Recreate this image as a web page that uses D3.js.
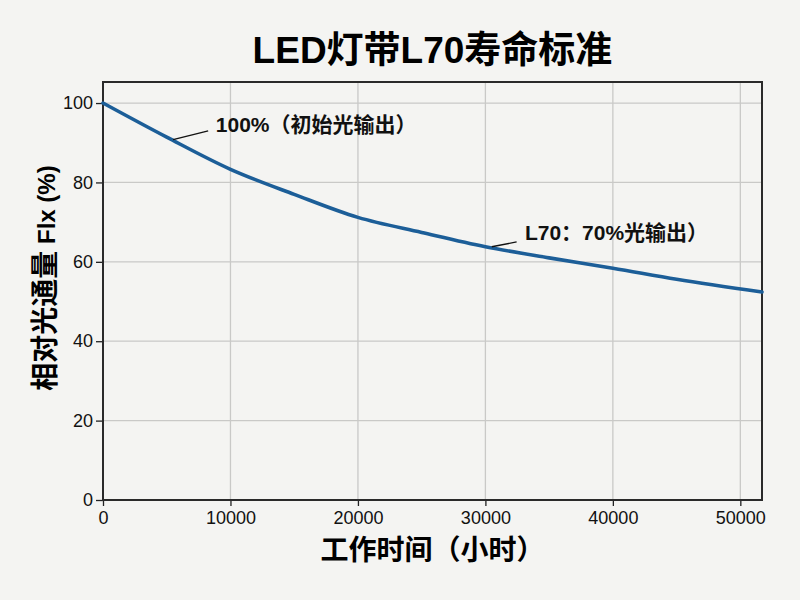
<!DOCTYPE html>
<html>
<head>
<meta charset="utf-8">
<script src="https://cdn.jsdelivr.net/npm/d3@7"></script>
<style>
  html, body { margin: 0; padding: 0; background: #f4f4f2; }
  svg { display: block; }
  text { font-family: "Liberation Sans", Arial, "Noto Sans CJK SC", sans-serif; }
</style>
</head>
<body>
<svg id="chart" width="800" height="600"></svg>
<script>
// ---- data ----
const hours = [0, 5000, 10000, 15000, 20000, 25000, 30000, 35000, 40000, 45000, 51700];
const flux  = [100, 91.4, 83.3, 77.0, 71.2, 67.4, 63.8, 61.0, 58.4, 55.6, 52.4];
const xTicks = [0, 10000, 20000, 30000, 40000, 50000];
const yTicks = [0, 20, 40, 60, 80, 100];
const titleText = "LED灯带L70寿命标准";
const xLabel = "工作时间（小时）";
const yLabelCJK = "相对光通量";
const yLabelLatin = " Flx (%)";
const annoText   = ["100%（初始光输出）", "L70：70%光输出）"];
const annoPoint  = [[5500, 90.8], [30500, 63.8]];
const annoLeader = [[8250, 93.0], [32450, 65.0]];
const annoLabel  = [[8850, 94.0], [33100, 66.8]];

// ---- layout ----
const svg = d3.select("#chart");
const margin = {left: 103, right: 38, top: 82, bottom: 100};
const W = 800, H = 600;
const iw = W - margin.left - margin.right;
const ih = H - margin.top - margin.bottom;

const x = d3.scaleLinear().domain([0, 51700]).range([0, iw]);
const y = d3.scaleLinear().domain([0, 105.3]).range([ih, 0]);

svg.append("rect").attr("width", W).attr("height", H).attr("fill", "#f4f4f2");

const g = svg.append("g").attr("transform", `translate(${margin.left},${margin.top})`);

// grid
g.append("g").selectAll("line").data(xTicks.filter(d => d > 0)).join("line")
  .attr("x1", d => x(d)).attr("x2", d => x(d)).attr("y1", 0).attr("y2", ih)
  .attr("stroke", "#c9c9c7").attr("stroke-width", 1.3);
g.append("g").selectAll("line").data(yTicks.filter(d => d > 0)).join("line")
  .attr("x1", 0).attr("x2", iw).attr("y1", d => y(d)).attr("y2", d => y(d))
  .attr("stroke", "#c9c9c7").attr("stroke-width", 1.3);

// axes
const xAxis = d3.axisBottom(x).tickValues(xTicks).tickFormat(d3.format("d")).tickSize(6).tickPadding(5);
const yAxis = d3.axisLeft(y).tickValues(yTicks).tickFormat(d3.format("d")).tickSize(7).tickPadding(3);

const gx = g.append("g").attr("transform", `translate(0,${ih})`).call(xAxis);
const gy = g.append("g").call(yAxis);
[gx, gy].forEach(a => {
  a.select(".domain").remove();
  a.selectAll(".tick line").attr("stroke", "#222").attr("stroke-width", 1.3);
  a.selectAll(".tick text").attr("fill", "#111").style("font-size", "18px")
    .style("font-family", "'Liberation Sans', Arial, sans-serif");
});

// frame
g.append("rect").attr("x", 0).attr("y", 0).attr("width", iw).attr("height", ih)
  .attr("fill", "none").attr("stroke", "#2a2a2a").attr("stroke-width", 2);

// line
const pts = hours.map((h, i) => [h, flux[i]]);
const line = d3.line().x(d => x(d[0])).y(d => y(d[1])).curve(d3.curveMonotoneX);
g.append("path").datum(pts).attr("d", line)
  .attr("fill", "none").attr("stroke", "#1c5e98").attr("stroke-width", 3.6)
  .attr("stroke-linejoin", "round").attr("stroke-linecap", "round");

// annotations
annoText.forEach((t, i) => {
  g.append("line")
    .attr("x1", x(annoPoint[i][0])).attr("y1", y(annoPoint[i][1]))
    .attr("x2", x(annoLeader[i][0])).attr("y2", y(annoLeader[i][1]))
    .attr("stroke", "#111").attr("stroke-width", 1.3);
  g.append("text")
    .attr("x", x(annoLabel[i][0])).attr("y", y(annoLabel[i][1]))
    .attr("dominant-baseline", "middle")
    .attr("fill", "#111").style("font-size", "21px").style("font-weight", "700")
    .text(t);
});

// title
svg.append("text")
  .attr("x", margin.left + iw / 2).attr("y", 63)
  .attr("text-anchor", "middle").attr("fill", "#000")
  .style("font-size", "37px").style("font-weight", "700")
  .text(titleText);

// x label
svg.append("text")
  .attr("x", margin.left + iw / 2).attr("y", 560)
  .attr("text-anchor", "middle").attr("fill", "#000")
  .style("font-size", "28px").style("font-weight", "700")
  .text(xLabel);

// y label
const yl = svg.append("text")
  .attr("transform", `translate(55,278) rotate(-90)`)
  .attr("text-anchor", "middle").attr("fill", "#000")
  .style("font-weight", "700");
yl.append("tspan").style("font-size", "28px").text(yLabelCJK);
yl.append("tspan").style("font-size", "24px").text(yLabelLatin);
</script>
</body>
</html>
